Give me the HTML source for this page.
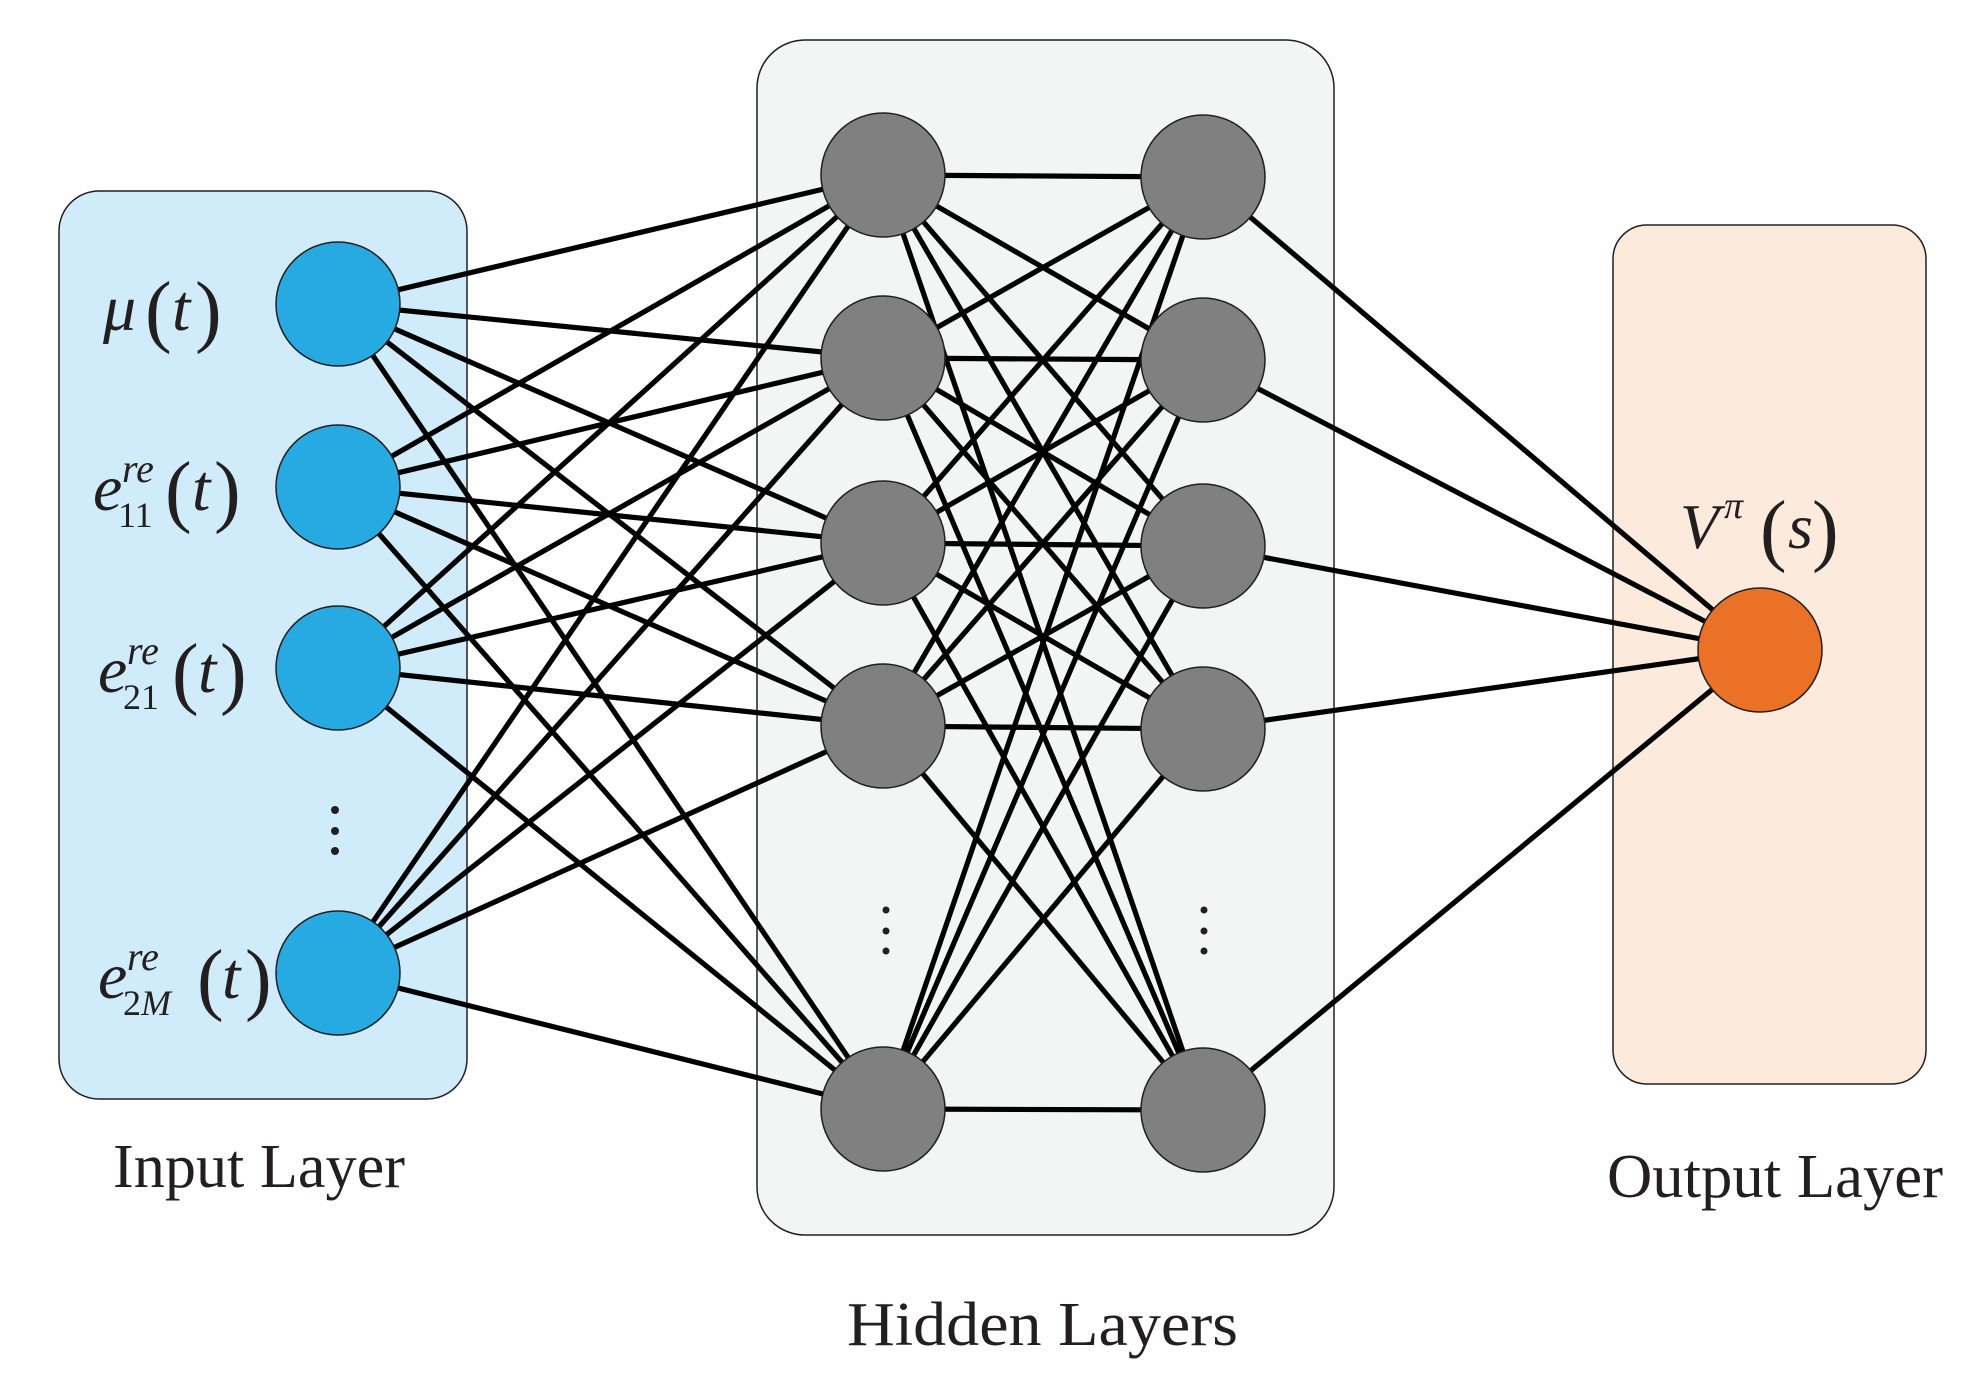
<!DOCTYPE html>
<html><head><meta charset="utf-8"><style>
html,body{margin:0;padding:0;background:#fff;}
svg{display:block;}
text{font-family:"Liberation Serif",serif;fill:#231f20;}
.it{font-style:italic;}
</style></head><body>
<svg width="1970" height="1398" viewBox="0 0 1970 1398" xmlns="http://www.w3.org/2000/svg">
<rect x="59" y="191" width="408" height="908" rx="40" fill="#d0ebfa" stroke="#231f20" stroke-width="1.5"/>
<rect x="757" y="40" width="577" height="1195" rx="48" fill="#f3f4f4" stroke="#231f20" stroke-width="1.5"/>
<rect x="1613" y="225" width="313" height="859" rx="34" fill="#fcebdc" stroke="#231f20" stroke-width="1.5"/>
<g stroke="#000" stroke-width="5.2" id="lines"></g>
<g id="nodes"></g>
<text class="it" x="103" y="330" font-size="66">μ</text>
<text x="145" y="337" font-size="80">(</text><text class="it" x="172" y="330" font-size="66">t</text><text x="195" y="337" font-size="80">)</text>

<text class="it" x="93" y="510" font-size="66">e</text>
<text class="it" x="122" y="482" font-size="40">re</text>
<text x="118" y="527" font-size="36">11</text>
<text x="165" y="517" font-size="80">(</text><text class="it" x="192" y="510" font-size="66">t</text><text x="214" y="517" font-size="80">)</text>

<text class="it" x="98" y="692" font-size="66">e</text>
<text class="it" x="127" y="664" font-size="40">re</text>
<text x="123" y="709" font-size="36">21</text>
<text x="172" y="699" font-size="80">(</text><text class="it" x="198" y="692" font-size="66">t</text><text x="220" y="699" font-size="80">)</text>

<text class="it" x="98" y="998" font-size="66">e</text>
<text class="it" x="127" y="970" font-size="40">re</text>
<text x="123" y="1015" font-size="36">2<tspan class="it">M</tspan></text>
<text x="197" y="1005" font-size="80">(</text><text class="it" x="222" y="998" font-size="66">t</text><text x="245" y="1005" font-size="80">)</text>

<circle cx="335" cy="810" r="4" fill="#231f20"/><circle cx="335" cy="831" r="4" fill="#231f20"/><circle cx="335" cy="851" r="4" fill="#231f20"/>
<circle cx="886" cy="910" r="3.5" fill="#231f20"/><circle cx="886" cy="931" r="3.5" fill="#231f20"/><circle cx="886" cy="951" r="3.5" fill="#231f20"/>
<circle cx="1204" cy="910" r="3.5" fill="#231f20"/><circle cx="1204" cy="931" r="3.5" fill="#231f20"/><circle cx="1204" cy="951" r="3.5" fill="#231f20"/>

<text class="it" x="1680" y="548" font-size="64">V</text>
<text class="it" x="1724" y="518" font-size="38">π</text>
<text x="1760" y="556" font-size="80">(</text><text class="it" x="1788" y="548" font-size="64">s</text><text x="1812" y="556" font-size="80">)</text>

<text x="113" y="1187" font-size="62" textLength="292" lengthAdjust="spacingAndGlyphs">Input Layer</text>
<text x="847" y="1345" font-size="62" textLength="391" lengthAdjust="spacingAndGlyphs">Hidden Layers</text>
<text x="1607" y="1197" font-size="62" textLength="336" lengthAdjust="spacingAndGlyphs">Output Layer</text>
</svg>
<script>
var ns="http://www.w3.org/2000/svg";
var inp=[[338,304],[338,487],[338,668],[338,973]];
var h1=[[883,175],[883,358],[883,543],[883,726],[883,1109]];
var h2=[[1203,177],[1203,360],[1203,546],[1203,729],[1203,1110]];
var out=[[1760,650]];
var L=document.getElementById("lines"),N=document.getElementById("nodes");
function ln(a,b){var l=document.createElementNS(ns,"line");l.setAttribute("x1",a[0]);l.setAttribute("y1",a[1]);l.setAttribute("x2",b[0]);l.setAttribute("y2",b[1]);L.appendChild(l);}
inp.forEach(a=>h1.forEach(b=>ln(a,b)));
h1.forEach(a=>h2.forEach(b=>ln(a,b)));
h2.forEach(a=>out.forEach(b=>ln(a,b)));
function nd(arr,f){arr.forEach(p=>{var c=document.createElementNS(ns,"ellipse");c.setAttribute("cx",p[0]);c.setAttribute("cy",p[1]);c.setAttribute("rx",62);c.setAttribute("ry",62);c.setAttribute("fill",f);c.setAttribute("stroke","#231f20");c.setAttribute("stroke-width","1.5");N.appendChild(c);});}
nd(inp,"#27aae1");nd(h1,"#808080");nd(h2,"#808080");nd(out,"#ea7125");
</script>
</body></html>
